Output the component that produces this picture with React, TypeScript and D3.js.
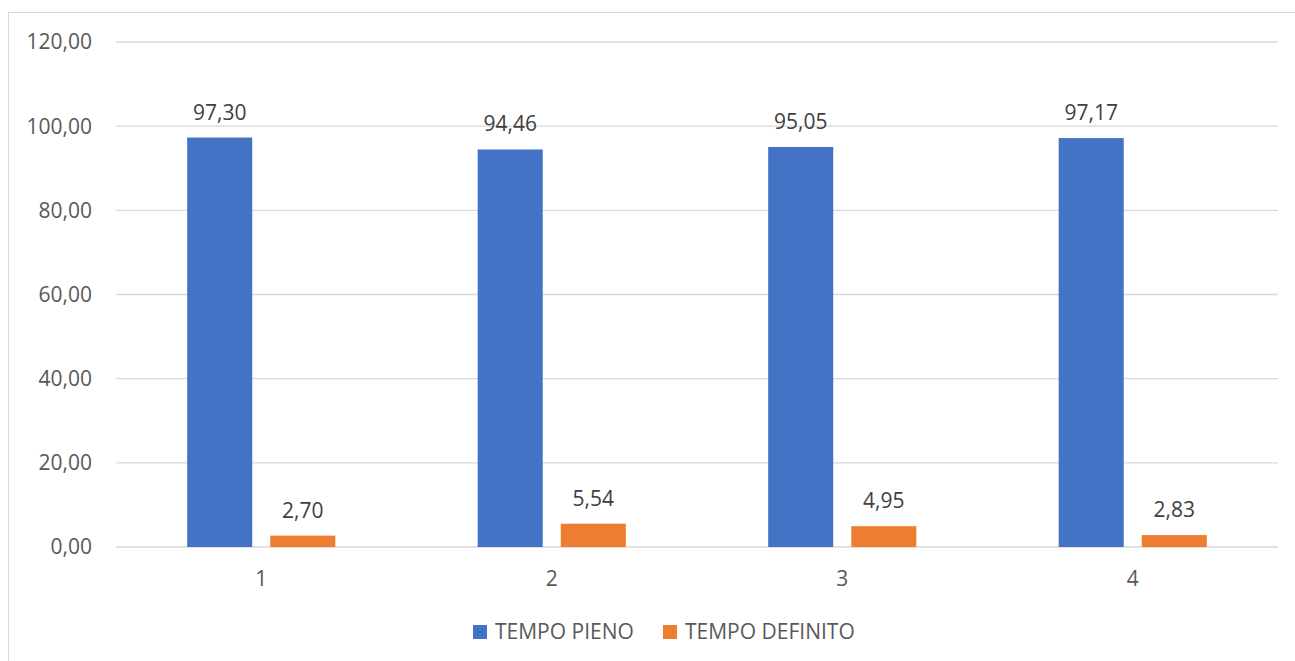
import React from 'react';
import * as d3 from 'd3';

const categories = ['1', '2', '3', '4'];
const seriesNames = ['TEMPO PIENO', 'TEMPO DEFINITO'];
const tempoPieno = [97.3, 94.46, 95.05, 97.17];
const tempoDefinito = [2.7, 5.54, 4.95, 2.83];
const yTicks = [0, 20, 40, 60, 80, 100, 120];
const colors = ['#4472C4', '#ED7D31'];

const width = 1295;
const height = 661;
const margin = { top: 42, right: 17, bottom: 114, left: 116 };
const fontFamily = '"Open Sans", "DejaVu Sans", sans-serif';
const fontSize = 21;

const fmt = (v: number) => v.toFixed(2).replace('.', ',');

const App: React.FC = () => {
  const innerWidth = width - margin.left - margin.right;
  const innerHeight = height - margin.top - margin.bottom;

  const x = d3.scaleBand<string>()
    .domain(categories)
    .range([0, innerWidth])
    .paddingInner(0.49)
    .paddingOuter(0.245);

  const xInner = d3.scaleBand<string>()
    .domain(seriesNames)
    .range([0, x.bandwidth()])
    .paddingInner(0.217);

  const y = d3.scaleLinear()
    .domain([0, 120])
    .range([innerHeight, 0]);

  const rows = categories.map((c, i) => ({
    category: c,
    values: [tempoPieno[i], tempoDefinito[i]]
  }));

  return (
    <svg
      width={width}
      height={height}
      style={{ position: 'absolute', top: 0, left: 0, background: 'white' }}
    >
      {/* chart frame */}
      <rect x={8.5} y={12.5} width={1300} height={700} fill="white" stroke="#d9d9d9" />

      <g transform={`translate(${margin.left},${margin.top})`}>
        {/* grid + y labels */}
        {yTicks.map(t => (
          <g key={t} transform={`translate(0,${y(t)})`}>
            <line x1={0} x2={innerWidth} stroke="#d9d9d9" strokeWidth={1.3} />
            <text
              x={-24}
              dy="0.35em"
              textAnchor="end"
              fontFamily={fontFamily}
              fontSize={fontSize}
              fill="#595959"
            >
              {fmt(t)}
            </text>
          </g>
        ))}

        {/* bars */}
        {rows.map(r => (
          <g key={r.category} transform={`translate(${x(r.category)},0)`}>
            {r.values.map((v, j) => {
              const bx = xInner(seriesNames[j]) as number;
              return (
                <g key={j}>
                  <rect
                    x={bx}
                    y={y(v)}
                    width={xInner.bandwidth()}
                    height={innerHeight - y(v)}
                    fill={colors[j]}
                  />
                  <text
                    x={bx + xInner.bandwidth() / 2}
                    y={y(v) - 18}
                    textAnchor="middle"
                    fontFamily={fontFamily}
                    fontSize={fontSize}
                    fill="#404040"
                  >
                    {fmt(v)}
                  </text>
                </g>
              );
            })}
            <text
              x={x.bandwidth() / 2}
              y={innerHeight + 32}
              dy="0.35em"
              textAnchor="middle"
              fontFamily={fontFamily}
              fontSize={fontSize}
              fill="#595959"
            >
              {r.category}
            </text>
          </g>
        ))}
      </g>

      {/* legend */}
      {seriesNames.map((s, i) => {
        const lx = i === 0 ? 473 : 663;
        return (
          <g key={s} transform={`translate(${lx},625)`}>
            <rect width={14} height={14} fill={colors[i]} />
            <text
              x={22}
              y={7}
              dy="0.35em"
              fontFamily={fontFamily}
              fontSize={fontSize}
              fill="#595959"
            >
              {s}
            </text>
          </g>
        );
      })}
    </svg>
  );
};

export default App;
